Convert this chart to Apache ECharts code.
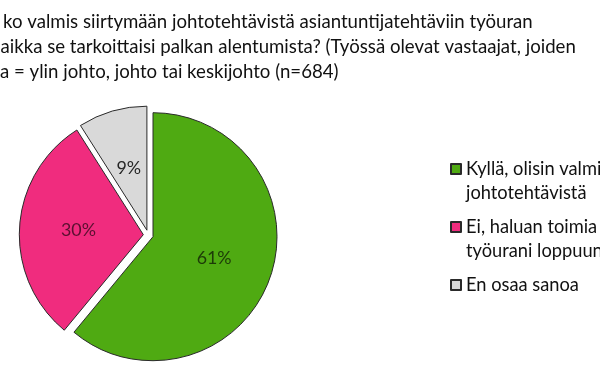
<!DOCTYPE html>
<html>
<head>
<meta charset="utf-8">
<script src="https://cdn.jsdelivr.net/npm/echarts@6/dist/echarts.min.js"></script>
<style>
html,body{margin:0;padding:0;background:#fff;}
#chart{width:600px;height:379px;}
</style>
</head>
<body>
<div id="chart"></div>
<script>
// ---- data ----
const titleLines = [
  "ko valmis siirtymään johtotehtävistä asiantuntijatehtäviin työuran",
  "aikka se tarkoittaisi palkan alentumista? (Työssä olevat vastaajat, joiden",
  "a = ylin johto, johto tai keskijohto (n=684)"
];
const categories = [
  "Kyllä, olisin valmis siirtymään pois\njohtotehtävistä",
  "Ei, haluan toimia johtotehtävissä\ntyöurani loppuun asti",
  "En osaa sanoa"
];
const values = [61, 30, 9];
const colors = ["#4FAA12", "#F02C7E", "#D9D9D9"];
const labelColors = ["#1d3a08", "#5a1030", "#262626"];

// ---- font fitting ----
const FONT = "Lato";
const cv = document.createElement('canvas').getContext('2d');
function widthAt(txt, size){ cv.font = size + "px " + FONT; return cv.measureText(txt).width; }
const fs = 20 * 576 / widthAt(titleLines[1], 20);
const legendFs = 20 * 113 / widthAt("En osaa sanoa", 20);
const labelFs = 20 * 35 / widthAt("61%", 20);

const chart = echarts.init(document.getElementById('chart'), null, {renderer:'canvas'});
const titleY = [21.5, 46.5, 71.5];
const titleX = [3, 0.5, 0];

const option = {
  animation: false,
  backgroundColor: '#fff',
  textStyle: { fontFamily: FONT },
  graphic: titleLines.map((t, i) => ({
    type: 'text',
    x: titleX[i],
    y: titleY[i],
    silent: true,
    style: { text: t, fontFamily: FONT, fontSize: fs, fill: '#111', verticalAlign: 'middle', align: 'left' }
  })),
  legend: {
    orient: 'vertical',
    left: 445,
    top: 128,
    itemWidth: 10,
    itemHeight: 10,
    itemGap: -14,
    icon: 'rect',
    selectedMode: false,
    formatter: function(name){
      return name.indexOf('\n') >= 0 ? '\n' + name : '\n' + name + '\n';
    },
    textStyle: { fontFamily: FONT, fontSize: legendFs, color: '#111', lineHeight: 24 },
    data: categories
  },
  series: [{
    type: 'pie',
    center: [148.3, 235],
    radius: 124,
    startAngle: 90,
    clockwise: true,
    selectedMode: 'multiple',
    selectedOffset: 5,
    avoidLabelOverlap: false,
    emphasis: { disabled: true },
    itemStyle: { borderColor: '#2a2a2a', borderWidth: 1 },
    select: { itemStyle: { borderColor: '#2a2a2a', borderWidth: 1 } },
    label: { show: true, position: 'inside', formatter: '{c}%', fontFamily: FONT, fontSize: labelFs },
    labelLine: { show: false },
    data: categories.map((c, i) => ({
      name: c,
      value: values[i],
      selected: true,
      itemStyle: { color: colors[i] },
      label: { color: labelColors[i] },
      select: { itemStyle: { color: colors[i] }, label: { color: labelColors[i] } }
    }))
  }]
};
chart.setOption(option);
</script>
</body>
</html>
